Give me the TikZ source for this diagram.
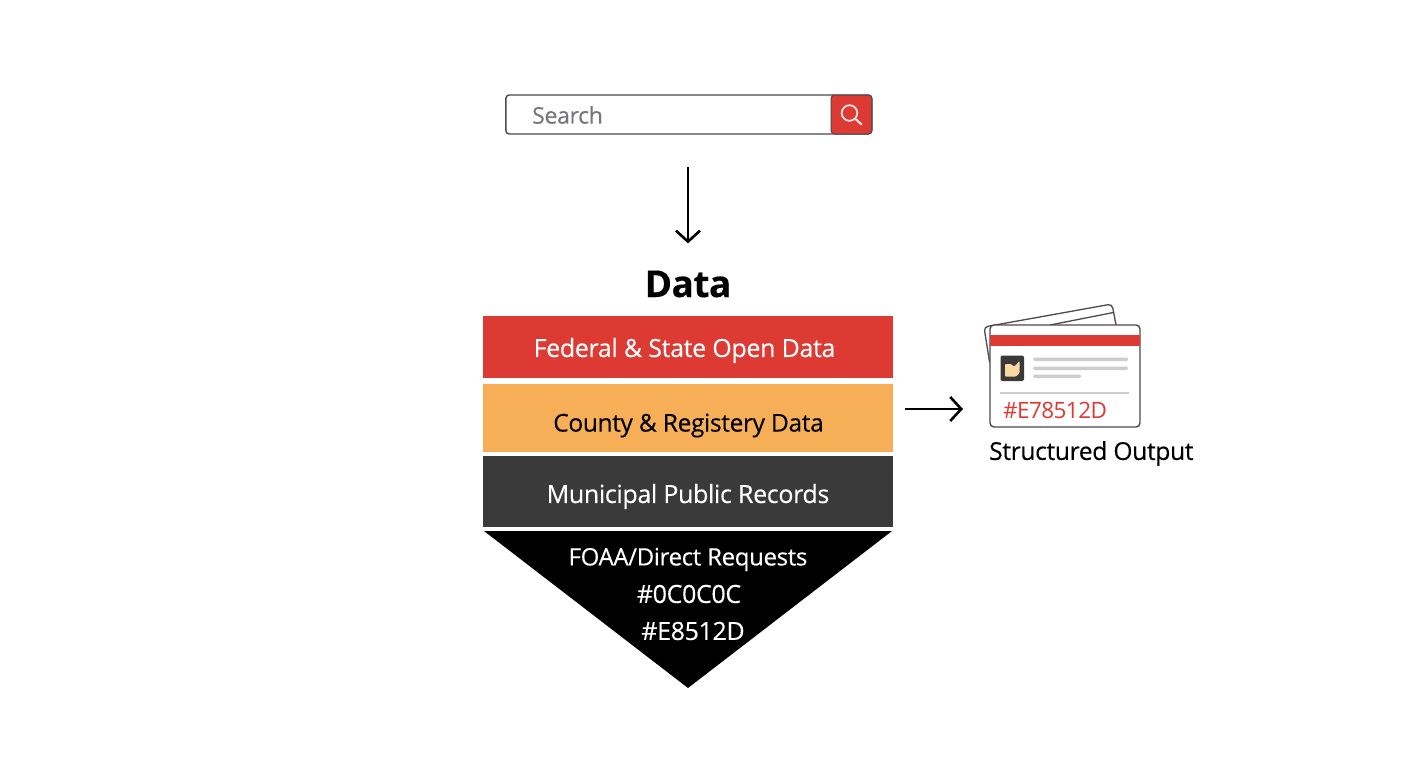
\documentclass[tikz,border=0pt]{standalone}
\usepackage{fontspec}
\setmainfont{Open Sans}[LetterSpace=-1.4,FakeBold=0.25]
\newfontfamily\tightopen{Open Sans}[LetterSpace=-2.6]
\definecolor{brandred}{HTML}{DE3A34}
\definecolor{brandorange}{HTML}{F6AF56}
\definecolor{branddark}{HTML}{3A3A3A}
\definecolor{outlinegray}{HTML}{4A4A4E}
\definecolor{linegray}{HTML}{CDCDCD}
\definecolor{cream}{HTML}{F8D9A4}
\definecolor{searchgray}{HTML}{77777A}
\usetikzlibrary{arrows.meta}
\tikzset{
  band/.style={anchor=north west,minimum width=410pt,inner sep=0pt,outer sep=0pt,draw=none},
  bandtext/.style={inner sep=0pt,font=\fontsize{25}{30}\selectfont},
  flow/.style={line width=2.6pt,-{Straight Barb[length=11pt,width=24pt,line width=2.6pt]}},
  barline/.style={fill=linegray,rounded corners=1.5pt,draw=none},
}
\begin{document}
\begin{tikzpicture}[x=1pt,y=-1pt]
\useasboundingbox (0,0) rectangle (1408,768);
% search bar
\node[anchor=north west,minimum width=366pt,minimum height=39pt,inner sep=0pt,outer sep=0pt,draw=outlinegray,line width=1.4pt,rounded corners=3.5pt,fill=white] (searchbar) at (505.8,95) {};
\path[fill=brandred,draw=outlinegray,line width=1pt,rounded corners=3.5pt] (831,95) -- (871.8,95) -- (871.8,134) -- (831,134) -- cycle;
\draw[white!90!brandred,line width=1.7pt] (849.5,113) circle (7.8pt);
\draw[white!90!brandred,line width=2pt,line cap=round] (855.3,118.8) -- (861.5,124.5);
\node[anchor=west,inner sep=0pt,text=searchgray,font=\fontsize{23}{28}\selectfont] (searchtext) at (532,115) {Search};
% title
\node[inner sep=0pt,font=\fontsize{37}{42}\selectfont\bfseries] (datatitle) at (688,284) {Data};
\draw[flow,shorten <=33pt,shorten >=27pt] (datatitle.north |- searchbar.south) -- (datatitle.north);
% stack
\node[band,fill=brandred,minimum height=62pt] (federal) at (483,316) {};
\node[bandtext,text=white] (federaltext) at (684.5,350.5) {Federal \& State Open Data};
\node[band,fill=brandorange,minimum height=68pt] (county) at (483,384) {};
\node[bandtext,text=black,font=\fontsize{24.5}{30}\selectfont] (countytext) at (688.5,425.5) {County \& Registery Data};
\node[band,fill=branddark,minimum height=71pt] (municipal) at (483,456) {};
\node[bandtext,text=white] (municipaltext) at (688,496.5) {Municipal Public Records};
\path[fill=black] (484,531) -- (892,531) -- (688,688) -- cycle;
\node[bandtext,text=white,font=\fontsize{24}{30}\selectfont] (foaa) at (688,559.5) {FOAA/Direct Requests};
\node[bandtext,text=white] (hexa) at (689,594) {\#0C0C0C};
\node[bandtext,text=white] (hexb) at (693,631) {\#E8512D};
% card
\path[fill=white,draw=outlinegray,line width=1.3pt,rounded corners=4pt] (984,327) -- (1112,304) -- (1118,335) -- (990,365) -- cycle;
\draw[outlinegray,line width=1.3pt] (1050,325) -- (1113.5,312.5);
\node[anchor=north west,minimum width=150pt,minimum height=102pt,inner sep=0pt,outer sep=0pt,draw=outlinegray,line width=1.4pt,rounded corners=4pt,fill=white] (card) at (990,325) {};
\path[fill=brandred] (990,335) rectangle (1140,346);
\path[fill=branddark,rounded corners=2pt] (1000.5,355.5) rectangle (1024,381);
\path[fill=cream,rounded corners=0.8pt] (1005,364) -- (1011,364) -- (1013,366) -- (1015,366) -- (1019.5,361) -- (1019.5,373) -- (1016,376.5) -- (1005,376.5) -- cycle;
\path[barline] (1033,357.5) rectangle (1128,361);
\path[barline] (1033,366.5) rectangle (1128,370);
\path[barline] (1033,374.5) rectangle (1081,378);
\path[fill=linegray] (1000,391.5) rectangle (1129,393.5);
\node[anchor=west,inner sep=0pt,text=brandred,font=\tightopen\fontsize{22.5}{27}\selectfont] (cardhex) at (1003,410) {\#E78512D};
\node[anchor=west,inner sep=0pt,font=\fontsize{24.6}{30}\selectfont] (outputlabel) at (989,453.5) {Structured Output};
\draw[flow] ([xshift=12pt,yshift=9pt]county.east) -- ([xshift=-27pt,yshift=-33pt]card.west);
\end{tikzpicture}
\end{document}
